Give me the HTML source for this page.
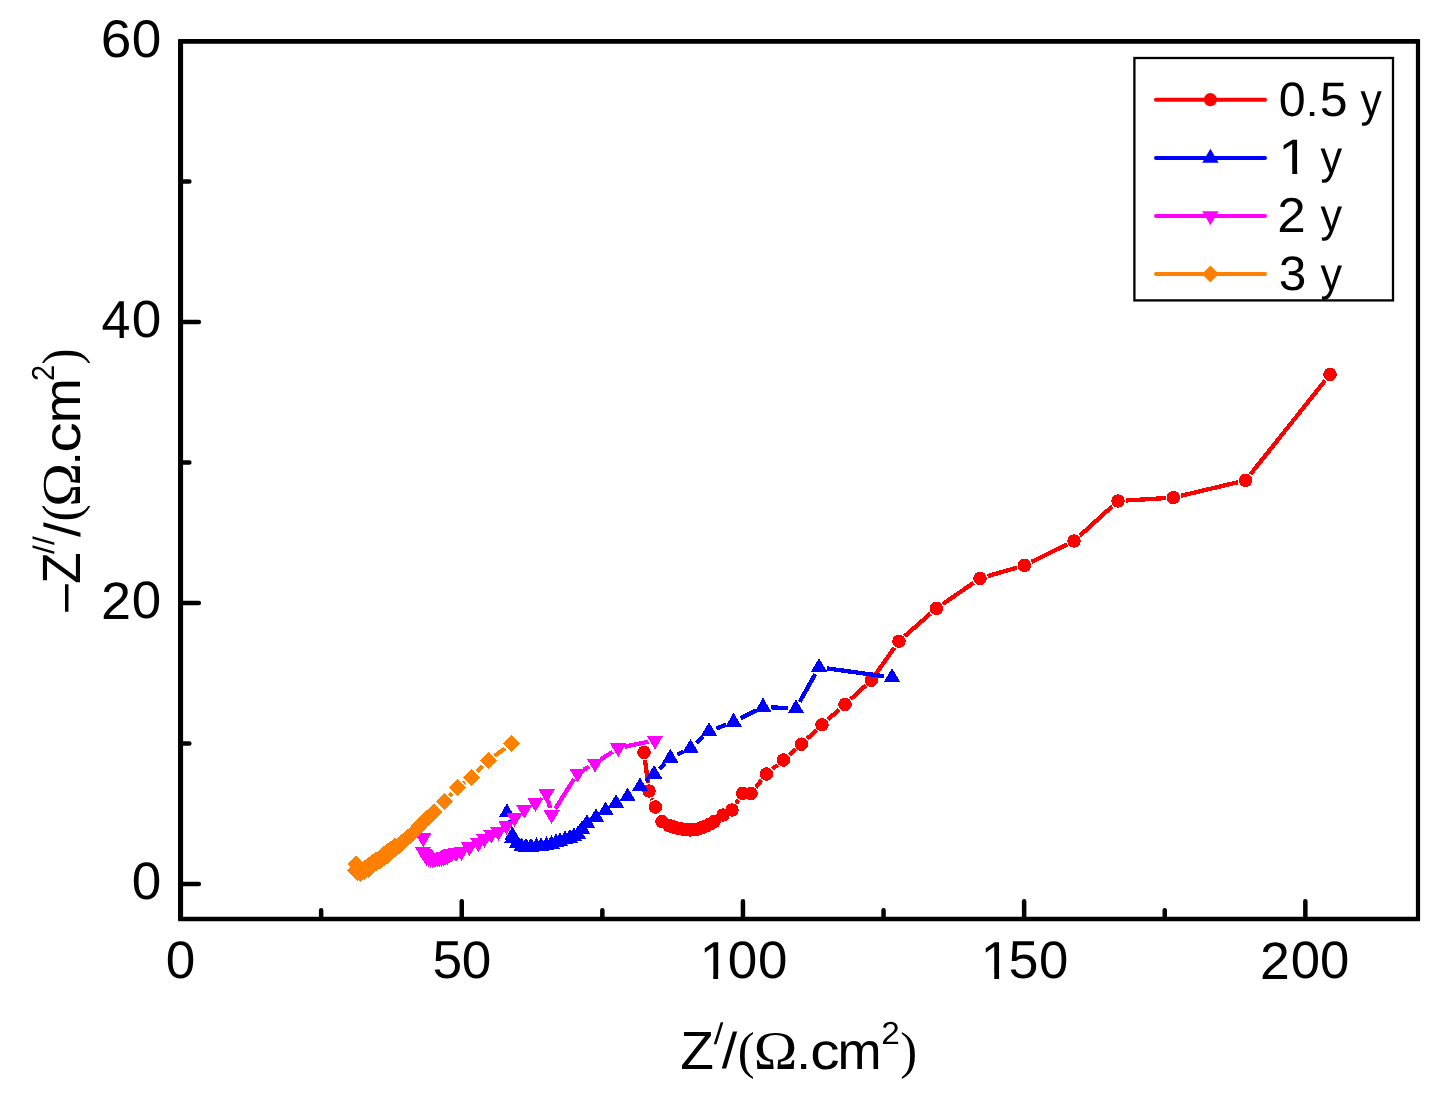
<!DOCTYPE html>
<html><head><meta charset="utf-8"><title>Nyquist plot</title>
<style>html,body{margin:0;padding:0;background:#fff}svg{display:block;will-change:transform}</style></head>
<body>
<svg text-rendering="geometricPrecision" width="1443" height="1095" viewBox="0 0 1443 1095">
<rect width="1443" height="1095" fill="#fff"/>
<g stroke-linecap="butt" shape-rendering="crispEdges">
<path d="M1325.14 380.5L1250.46 474.3M1238.01 482.21L1180.99 495.79M1165.61 498.08L1125.79 500.52M1112.23 506.25L1079.77 535.75M1067 544.44L1031.4 561.96M1016.91 567.59L987.49 576.21M973.57 582.82L942.83 603.98M930.54 613.54L904.86 636.06M894.49 647.57L875.91 673.83M865.65 685.47L850.75 699.13M839.16 709.58L827.84 719.62M816.32 730.15L807.08 738.85M795.54 749.35L789.26 754.85M777.38 764.96L772.42 769.04M761.55 780.11L755.85 787.29M738.4 799.97L736.2 803.43M652.5 799.76L651.9 798.24M648 783.26L645 760.14" stroke="#ff0000" stroke-width="4.3" fill="none"/>
<g fill="#ff0000"><circle cx="1330" cy="374.4" r="6.75"/><circle cx="1245.6" cy="480.4" r="6.75"/><circle cx="1173.4" cy="497.6" r="6.75"/><circle cx="1118" cy="501" r="6.75"/><circle cx="1074" cy="541" r="6.75"/><circle cx="1024.4" cy="565.4" r="6.75"/><circle cx="980" cy="578.4" r="6.75"/><circle cx="936.4" cy="608.4" r="6.75"/><circle cx="899" cy="641.2" r="6.75"/><circle cx="871.4" cy="680.2" r="6.75"/><circle cx="845" cy="704.4" r="6.75"/><circle cx="822" cy="724.8" r="6.75"/><circle cx="801.4" cy="744.2" r="6.75"/><circle cx="783.4" cy="760" r="6.75"/><circle cx="766.4" cy="774" r="6.75"/><circle cx="751" cy="793.4" r="6.75"/><circle cx="742.6" cy="793.4" r="6.75"/><circle cx="732" cy="810" r="6.75"/><circle cx="723" cy="815" r="6.75"/><circle cx="714" cy="821.6" r="6.75"/><circle cx="710" cy="824" r="6.75"/><circle cx="706" cy="826" r="6.75"/><circle cx="702" cy="827.7" r="6.75"/><circle cx="698" cy="829" r="6.75"/><circle cx="694" cy="829.7" r="6.75"/><circle cx="690" cy="830" r="6.75"/><circle cx="686" cy="829.7" r="6.75"/><circle cx="682" cy="829" r="6.75"/><circle cx="678.5" cy="828.3" r="6.75"/><circle cx="675" cy="827.6" r="6.75"/><circle cx="672" cy="826.6" r="6.75"/><circle cx="669" cy="825.6" r="6.75"/><circle cx="662" cy="821.6" r="6.75"/><circle cx="655.4" cy="807" r="6.75"/><circle cx="649" cy="791" r="6.75"/><circle cx="644" cy="752.4" r="6.75"/></g>
<path d="M508.72 820.3L510.58 828.03M645.86 781.47L648.24 779.37M659.62 768.7L664.78 763.53M677.32 754.61L683.48 751.62M696.26 742.96L703.24 736.58M716.29 728.53L726.31 724.7M740.55 718.37L756.05 710.46M770.79 707.29L788.21 708.14M799.8 701.71L815.2 674.13M826.73 668.38L884.27 676.26" stroke="#0000ff" stroke-width="4.3" fill="none"/>
<path d="M498.7 817.35L515.1 817.35L506.9 803.45ZM504.2 840.25L520.6 840.25L512.4 826.35ZM504.2 842.75L520.6 842.75L512.4 828.85ZM508.5 848.35L524.9 848.35L516.7 834.45ZM513.3 851.45L529.7 851.45L521.5 837.55ZM517.8 851.65L534.2 851.65L526 837.75ZM522.8 851.65L539.2 851.65L531 837.75ZM528.3 851.25L544.7 851.25L536.5 837.35ZM532.8 851.15L549.2 851.15L541 837.25ZM538.3 850.15L554.7 850.15L546.5 836.25ZM543.3 848.75L559.7 848.75L551.5 834.85ZM547.8 847.45L564.2 847.45L556 833.55ZM551.8 846.25L568.2 846.25L560 832.35ZM556.8 844.45L573.2 844.45L565 830.55ZM561.8 842.75L578.2 842.75L570 828.85ZM565.8 840.95L582.2 840.95L574 827.05ZM569.8 839.25L586.2 839.25L578 825.35ZM573.8 833.95L590.2 833.95L582 820.05ZM578.8 827.95L595.2 827.95L587 814.05ZM587.8 821.95L604.2 821.95L596 808.05ZM597.4 815.35L613.8 815.35L605.6 801.45ZM607.8 807.95L624.2 807.95L616 794.05ZM619.4 801.35L635.8 801.35L627.6 787.45ZM631.8 791.25L648.2 791.25L640 777.35ZM645.9 778.85L662.3 778.85L654.1 764.95ZM662.1 762.65L678.5 762.65L670.3 748.75ZM682.3 752.85L698.7 752.85L690.5 738.95ZM700.8 735.95L717.2 735.95L709 722.05ZM725.4 726.55L741.8 726.55L733.6 712.65ZM754.8 711.55L771.2 711.55L763 697.65ZM787.8 713.15L804.2 713.15L796 699.25ZM810.8 671.95L827.2 671.95L819 658.05ZM883.8 681.95L900.2 681.95L892 668.05Z" fill="#0000ff"/>
<path d="M540.75 798.38L541.25 797.98M548.18 800.4L550.02 808.07M555.22 808.92L573.98 779.04M583.5 769.9L589.1 766.67M600.69 759.56L612.51 751.81M624.85 746.67L648.35 741.69" stroke="#ff00ff" stroke-width="4.3" fill="none"/>
<path d="M415 833.25L431.4 833.25L423.2 847.15ZM414.9 847.05L431.3 847.05L423.1 860.95ZM416.03 848.72L432.43 848.72L424.23 862.62ZM417.17 850.38L433.57 850.38L425.37 864.28ZM418.3 852.05L434.7 852.05L426.5 865.95ZM420.3 853.05L436.7 853.05L428.5 866.95ZM422.3 854.05L438.7 854.05L430.5 867.95ZM424.55 854.15L440.95 854.15L432.75 868.05ZM426.8 854.25L443.2 854.25L435 868.15ZM429.05 853.75L445.45 853.75L437.25 867.65ZM431.3 853.25L447.7 853.25L439.5 867.15ZM433.4 852.8L449.8 852.8L441.6 866.7ZM435.5 852.35L451.9 852.35L443.7 866.25ZM437.4 851.6L453.8 851.6L445.6 865.5ZM439.3 850.85L455.7 850.85L447.5 864.75ZM441.05 850.05L457.45 850.05L449.25 863.95ZM442.8 849.25L459.2 849.25L451 863.15ZM447.8 848.25L464.2 848.25L456 862.15ZM453.2 846.95L469.6 846.95L461.4 860.85ZM461.1 842.45L477.5 842.45L469.3 856.35ZM470.2 838.25L486.6 838.25L478.4 852.15ZM476.2 834.05L492.6 834.05L484.4 847.95ZM483.1 829.95L499.5 829.95L491.3 843.85ZM490.2 827.05L506.6 827.05L498.4 840.95ZM498.2 820.95L514.6 820.95L506.4 834.85ZM506.4 813.15L522.8 813.15L514.6 827.05ZM516.1 804.95L532.5 804.95L524.3 818.85ZM527.2 797.95L543.6 797.95L535.4 811.85ZM538.4 789.15L554.8 789.15L546.6 803.05ZM543.4 810.05L559.8 810.05L551.6 823.95ZM569.4 768.65L585.8 768.65L577.6 782.55ZM586.8 758.65L603.2 758.65L595 772.55ZM610 743.45L626.4 743.45L618.2 757.35ZM646.8 735.65L663.2 735.65L655 749.55Z" fill="#ff00ff"/>
<path d="M449.75 796.12L452.15 793.58M463.76 783.25L465.24 782.15M476.95 771.92L482.75 765.98M494.57 755.89L505.13 748.41" stroke="#ff8000" stroke-width="4.3" fill="none"/>
<path d="M347.9 864L356.4 855.5L364.9 864L356.4 872.5ZM346.9 870.7L355.4 862.2L363.9 870.7L355.4 879.2ZM348.5 872.5L357 864L365.5 872.5L357 881ZM352.23 873.33L360.73 864.83L369.23 873.33L360.73 881.83ZM352.37 870.57L360.87 862.07L369.37 870.57L360.87 879.07ZM356.1 871.4L364.6 862.9L373.1 871.4L364.6 879.9ZM356.15 868.55L364.65 860.05L373.15 868.55L364.65 877.05ZM359.8 869.3L368.3 860.8L376.8 869.3L368.3 877.8ZM359.97 865.97L368.47 857.47L376.97 865.97L368.47 874.47ZM363.73 866.23L372.23 857.73L380.73 866.23L372.23 874.73ZM363.9 862.9L372.4 854.4L380.9 862.9L372.4 871.4ZM367.6 863.37L376.1 854.87L384.6 863.37L376.1 871.87ZM367.7 860.25L376.2 851.75L384.7 860.25L376.2 868.75ZM371.4 860.73L379.9 852.23L388.4 860.73L379.9 869.23ZM371.5 857.6L380 849.1L388.5 857.6L380 866.1ZM375.19 857.96L383.69 849.46L392.19 857.96L383.69 866.46ZM375.27 854.71L383.77 846.21L392.27 854.71L383.77 863.21ZM378.96 855.07L387.46 846.57L395.96 855.07L387.46 863.57ZM379.04 851.83L387.54 843.33L396.04 851.83L387.54 860.33ZM382.73 852.19L391.23 843.69L399.73 852.19L391.23 860.69ZM382.81 848.94L391.31 840.44L399.81 848.94L391.31 857.44ZM386.5 849.3L395 840.8L403.5 849.3L395 857.8ZM386.68 845.94L395.18 837.44L403.68 845.94L395.18 854.44ZM390.45 846.17L398.95 837.67L407.45 846.17L398.95 854.67ZM391.52 843.71L400.02 835.21L408.52 843.71L400.02 852.21ZM393.5 842.15L402 833.65L410.5 842.15L402 850.65ZM395.48 840.59L403.98 832.09L412.48 840.59L403.98 849.09ZM397.45 839.02L405.95 830.52L414.45 839.02L405.95 847.52ZM399.42 837.46L407.92 828.96L416.42 837.46L407.92 845.96ZM401.4 835.9L409.9 827.4L418.4 835.9L409.9 844.4ZM403.06 834.19L411.56 825.69L420.06 834.19L411.56 842.69ZM404.71 832.48L413.21 823.98L421.71 832.48L413.21 840.98ZM406.37 830.77L414.87 822.27L423.37 830.77L414.87 839.27ZM408.02 829.06L416.52 820.56L425.02 829.06L416.52 837.56ZM409.68 827.34L418.18 818.84L426.68 827.34L418.18 835.84ZM411.33 825.63L419.83 817.13L428.33 825.63L419.83 834.13ZM412.99 823.92L421.49 815.42L429.99 823.92L421.49 832.42ZM414.64 822.21L423.14 813.71L431.64 822.21L423.14 830.71ZM416.3 820.5L424.8 812L433.3 820.5L424.8 829ZM418.14 818.84L426.64 810.34L435.14 818.84L426.64 827.34ZM419.98 817.18L428.48 808.68L436.98 817.18L428.48 825.68ZM421.82 815.52L430.32 807.02L438.82 815.52L430.32 824.02ZM423.66 813.86L432.16 805.36L440.66 813.86L432.16 822.36ZM425.5 812.2L434 803.7L442.5 812.2L434 820.7ZM435.9 801.8L444.4 793.3L452.9 801.8L444.4 810.3ZM449 787.9L457.5 779.4L466 787.9L457.5 796.4ZM463 777.5L471.5 769L480 777.5L471.5 786ZM479.7 760.4L488.2 751.9L496.7 760.4L488.2 768.9ZM503 743.9L511.5 735.4L520 743.9L511.5 752.4Z" fill="#ff8000"/>
</g>
<g stroke="#000" stroke-width="4.5" fill="none" stroke-linecap="round" stroke-linejoin="round">
<path stroke="none" fill="#000" fill-rule="evenodd" d="M179 38.9H1419.1Q1420.1 38.9 1420.1 39.9V920.2Q1420.1 921.2 1419.1 921.2H179Q178 921.2 178 920.2V39.9Q178 38.9 179 38.9ZM183.1 43.85V916.7H1415.9V43.85Z"/>
<path d="M461.75 917.95V901.35M742.95 917.95V901.35M1024.15 917.95V901.35M1305.35 917.95V901.35M321.15 917.95V910.25M602.35 917.95V910.25M883.55 917.95V910.25M1164.75 917.95V910.25M181.55 883.9H198.85M181.55 602.94H198.85M181.55 321.98H198.85M181.55 743.42H189.35M181.55 462.46H189.35M181.55 181.5H189.35"/>
</g>
<g fill="#000">
<text transform="translate(165.72 978.49) scale(1.0627 1.0508)" font-family="'Liberation Sans', sans-serif" font-size="50">0</text><text transform="translate(432.56 978.48) scale(1.0672 1.0663)" font-family="'Liberation Sans', sans-serif" font-size="50">5</text><text transform="translate(461.82 978.49) scale(1.0627 1.0508)" font-family="'Liberation Sans', sans-serif" font-size="50">0</text><text transform="translate(699.41 978.6) scale(1.0999 1.0698)" font-family="'Liberation Sans', sans-serif" font-size="50">1</text><rect x="701.02" y="974.03" width="12.22" height="6.07" fill="#fff"/><rect x="718.1" y="974.03" width="11.92" height="6.07" fill="#fff"/><text transform="translate(727.72 978.49) scale(1.0627 1.0508)" font-family="'Liberation Sans', sans-serif" font-size="50">0</text><text transform="translate(757.93 978.49) scale(1.0585 1.0508)" font-family="'Liberation Sans', sans-serif" font-size="50">0</text><text transform="translate(980.55 978.6) scale(1.0917 1.0698)" font-family="'Liberation Sans', sans-serif" font-size="50">1</text><rect x="982.15" y="974.03" width="12.13" height="6.07" fill="#fff"/><rect x="999.1" y="974.03" width="11.83" height="6.07" fill="#fff"/><text transform="translate(1008.55 978.48) scale(1.0757 1.0663)" font-family="'Liberation Sans', sans-serif" font-size="50">5</text><text transform="translate(1038.94 978.49) scale(1.0543 1.0508)" font-family="'Liberation Sans', sans-serif" font-size="50">0</text><text transform="translate(1260.11 978.6) scale(1.0712 1.0541)" font-family="'Liberation Sans', sans-serif" font-size="50">2</text><text transform="translate(1290.84 978.49) scale(1.0543 1.0508)" font-family="'Liberation Sans', sans-serif" font-size="50">0</text><text transform="translate(1319.94 978.49) scale(1.0543 1.0508)" font-family="'Liberation Sans', sans-serif" font-size="50">0</text><text transform="translate(100.8 56.58) scale(1.1009 1.0565)" font-family="'Liberation Sans', sans-serif" font-size="50">6</text><text transform="translate(131.82 56.58) scale(1.0627 1.0565)" font-family="'Liberation Sans', sans-serif" font-size="50">0</text><text transform="translate(101.61 337.6) scale(1.0399 1.0669)" font-family="'Liberation Sans', sans-serif" font-size="50">4</text><text transform="translate(131.82 337.49) scale(1.0627 1.0480)" font-family="'Liberation Sans', sans-serif" font-size="50">0</text><text transform="translate(100.98 618.6) scale(1.0800 1.0541)" font-family="'Liberation Sans', sans-serif" font-size="50">2</text><text transform="translate(131.83 618.49) scale(1.0585 1.0508)" font-family="'Liberation Sans', sans-serif" font-size="50">0</text><text transform="translate(131.82 899.49) scale(1.0627 1.0508)" font-family="'Liberation Sans', sans-serif" font-size="50">0</text>
</g>
<g fill="#000">
<text transform="translate(680.15 1068.9) scale(1.1025 1.0756)" font-family="'Liberation Sans', sans-serif" font-size="50">Z</text>
<text transform="translate(713.7 1043.71) scale(0.6911 0.6019)" font-family="'Liberation Sans', sans-serif" font-size="50">/</text>
<text transform="translate(721.8 1068.41) scale(1.1086 1.0077)" font-family="'Liberation Sans', sans-serif" font-size="50">/</text>
<text transform="translate(737.78 1068.02) scale(1.0123 1.0411)" font-family="'Liberation Serif', serif" font-size="50">(</text>
<text transform="translate(753.87 1068.9) scale(1.1725 1.0905)" font-family="'Liberation Serif', serif" font-size="50">Ω</text>
<text transform="translate(795.91 1068.9) scale(1.0923 0.9352)" font-family="'Liberation Sans', sans-serif" font-size="50">.</text>
<text transform="translate(810.31 1068.8) scale(1.1736 1.0331)" font-family="'Liberation Sans', sans-serif" font-size="50">c</text>
<text transform="translate(837.38 1068.9) scale(1.0590 1.0370)" font-family="'Liberation Sans', sans-serif" font-size="50">m</text>
<text transform="translate(881.22 1044) scale(0.6673 0.6359)" font-family="'Liberation Sans', sans-serif" font-size="50">2</text>
<text transform="translate(900.37 1068.02) scale(1.0123 1.0411)" font-family="'Liberation Serif', serif" font-size="50">)</text>
</g>
<g fill="#000" transform="translate(80.1 582) rotate(-90)">
<text transform="translate(-29.7 -0.28) scale(0.9898 1.0464)" font-family="'Liberation Sans', sans-serif" font-size="50">–</text>
<text transform="translate(-1.63 0) scale(1.0258 1.0785)" font-family="'Liberation Sans', sans-serif" font-size="50">Z</text>
<text transform="translate(28.1 -26.49) scale(0.6263 0.5937)" font-family="'Liberation Sans', sans-serif" font-size="50">/</text>
<text transform="translate(37 -26.49) scale(0.6263 0.5937)" font-family="'Liberation Sans', sans-serif" font-size="50">/</text>
<text transform="translate(45.1 -0.49) scale(1.0582 1.0104)" font-family="'Liberation Sans', sans-serif" font-size="50">/</text>
<text transform="translate(60.54 -0.79) scale(1.0279 1.0698)" font-family="'Liberation Serif', serif" font-size="50">(</text>
<text transform="translate(75.34 0) scale(1.1819 1.0965)" font-family="'Liberation Serif', serif" font-size="50">Ω</text>
<text transform="translate(116.5 0) scale(1.0293 0.9352)" font-family="'Liberation Sans', sans-serif" font-size="50">.</text>
<text transform="translate(129.31 -0.11) scale(1.2200 1.0404)" font-family="'Liberation Sans', sans-serif" font-size="50">c</text>
<text transform="translate(158.72 0) scale(1.0789 1.0444)" font-family="'Liberation Sans', sans-serif" font-size="50">m</text>
<text transform="translate(201.04 -26.4) scale(0.5795 0.6359)" font-family="'Liberation Sans', sans-serif" font-size="50">2</text>
<text transform="translate(217.46 -0.79) scale(0.9578 1.0698)" font-family="'Liberation Serif', serif" font-size="50">)</text>
</g>
<rect x="1134.4" y="58" width="258.6" height="242.4" fill="#fff" stroke="#000" stroke-width="2.3"/>
<g stroke-linecap="round" stroke-width="4">
<path d="M1156 99.7H1265" stroke="#ff0000"/>
<path d="M1156 158H1265" stroke="#0000ff"/>
<path d="M1156 216H1265" stroke="#ff00ff"/>
<path d="M1156 274H1265" stroke="#ff8000"/>
</g>
<g fill="#ff0000"><circle cx="1210.4" cy="99.7" r="6.6"/></g>
<path d="M1202.2 162.63L1218.6 162.63L1210.4 148.73Z" fill="#0000ff"/>
<path d="M1202.2 211.37L1218.6 211.37L1210.4 225.27Z" fill="#ff00ff"/>
<path d="M1201.9 274L1210.4 265.5L1218.9 274L1210.4 282.5Z" fill="#ff8000"/>
<g fill="#000">
<text transform="translate(1278.81 115.53) scale(0.9665 0.9661)" font-family="'Liberation Sans', sans-serif" font-size="50">0</text><text transform="translate(1305.38 115.6) scale(0.9452 0.7481)" font-family="'Liberation Sans', sans-serif" font-size="50">.</text><text transform="translate(1319.7 115.53) scale(0.9997 0.9688)" font-family="'Liberation Sans', sans-serif" font-size="50">5</text><text transform="translate(1360.6 115.57) scale(0.8515 0.9377)" font-family="'Liberation Sans', sans-serif" font-size="50">y</text><text transform="translate(1278.37 173.9) scale(1.1081 0.9971)" font-family="'Liberation Sans', sans-serif" font-size="50">1</text><rect x="1279.99" y="169.64" width="12.31" height="5.76" fill="#fff"/><rect x="1297.2" y="169.64" width="12.01" height="5.76" fill="#fff"/><text transform="translate(1320.49 173.26) scale(0.8636 0.9296)" font-family="'Liberation Sans', sans-serif" font-size="50">y</text><text transform="translate(1277.33 232.1) scale(1.0229 0.9796)" font-family="'Liberation Sans', sans-serif" font-size="50">2</text><text transform="translate(1320.49 231.46) scale(0.8636 0.9296)" font-family="'Liberation Sans', sans-serif" font-size="50">y</text><text transform="translate(1278.81 289.73) scale(0.9913 0.9661)" font-family="'Liberation Sans', sans-serif" font-size="50">3</text><text transform="translate(1320.49 289.56) scale(0.8636 0.9296)" font-family="'Liberation Sans', sans-serif" font-size="50">y</text>
</g>
</svg>
</body></html>
